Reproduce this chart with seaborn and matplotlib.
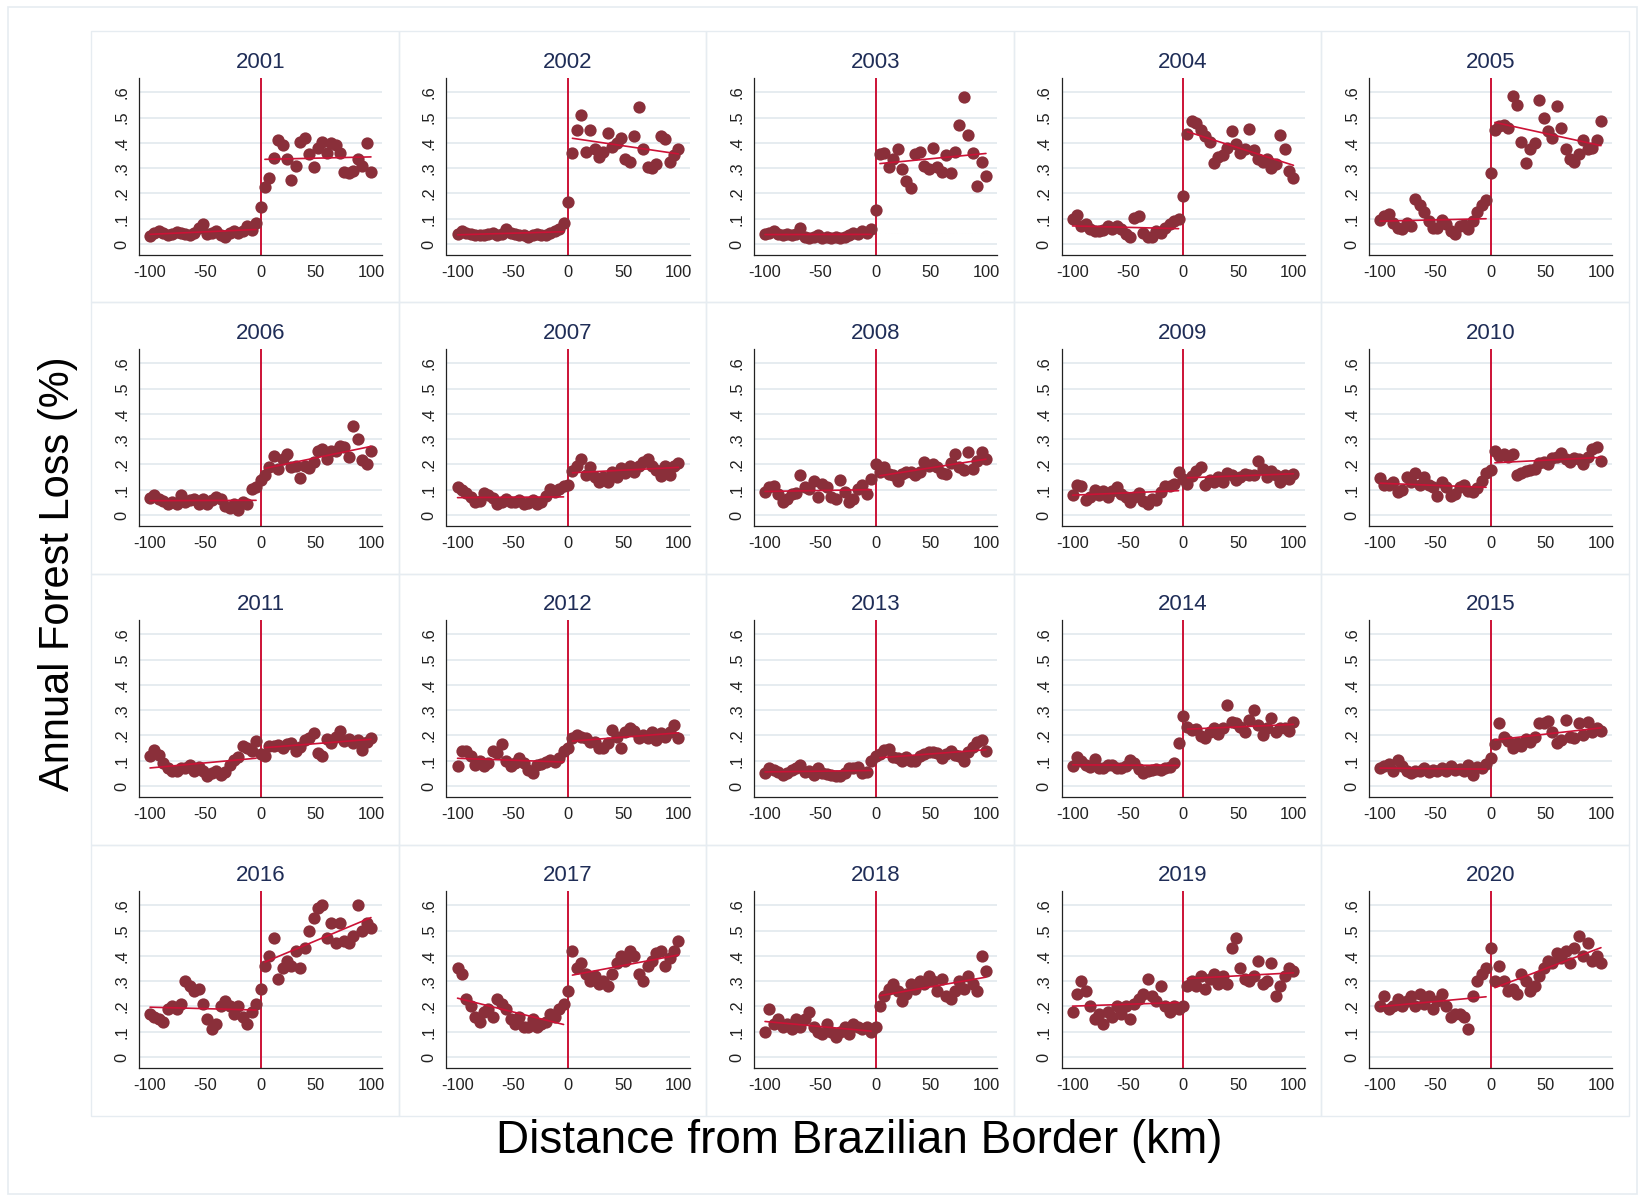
import matplotlib
matplotlib.use("Agg")
import matplotlib.pyplot as plt
from matplotlib.patches import Rectangle
import numpy as np
import pandas as pd
import seaborn as sns

# Distance bins (km from the Brazilian border) shared by every year
distance_km = [-100, -96, -92, -88, -84, -80, -76, -72, -68, -64, -60, -56, -52,
               -48, -44, -40, -36, -32, -28, -24, -20, -16, -12, -8, -4, 0,
               4, 8, 12, 16, 20, 24, 28, 32, 36, 40, 44, 48, 52, 56, 60, 64,
               68, 72, 76, 80, 84, 88, 92, 96, 100]

# Annual forest loss (%) per distance bin, one list per year
loss_2001 = [0.033, 0.045, 0.05, 0.045, 0.035, 0.04, 0.048, 0.045, 0.04, 0.035, 0.045, 0.065, 0.078,
             0.04, 0.045, 0.05, 0.035, 0.03, 0.045, 0.05, 0.045, 0.05, 0.07, 0.055, 0.085, 0.145,
             0.225, 0.26, 0.34, 0.41, 0.39, 0.335, 0.255, 0.31, 0.405, 0.42, 0.355, 0.305, 0.38,
             0.405, 0.36, 0.40, 0.39, 0.36, 0.285, 0.28, 0.29, 0.335, 0.31, 0.40, 0.285]
loss_2002 = [0.04, 0.05, 0.045, 0.04, 0.035, 0.035, 0.035, 0.04, 0.045, 0.035, 0.04, 0.06, 0.045,
             0.04, 0.035, 0.035, 0.03, 0.035, 0.04, 0.035, 0.035, 0.045, 0.05, 0.06, 0.085, 0.165,
             0.36, 0.45, 0.51, 0.365, 0.45, 0.375, 0.345, 0.365, 0.44, 0.385, 0.40, 0.42, 0.335,
             0.325, 0.425, 0.54, 0.375, 0.305, 0.30, 0.315, 0.425, 0.415, 0.325, 0.35, 0.375]
loss_2003 = [0.04, 0.045, 0.05, 0.04, 0.035, 0.04, 0.035, 0.04, 0.065, 0.03, 0.025, 0.03, 0.035,
             0.025, 0.03, 0.025, 0.03, 0.025, 0.03, 0.035, 0.045, 0.04, 0.05, 0.045, 0.06, 0.135,
             0.355, 0.36, 0.305, 0.335, 0.375, 0.295, 0.25, 0.22, 0.355, 0.365, 0.31, 0.295, 0.38,
             0.305, 0.285, 0.35, 0.28, 0.365, 0.47, 0.58, 0.43, 0.36, 0.23, 0.325, 0.27]
loss_2004 = [0.10, 0.115, 0.07, 0.08, 0.06, 0.05, 0.05, 0.055, 0.07, 0.06, 0.07, 0.06, 0.04,
             0.03, 0.105, 0.11, 0.045, 0.03, 0.03, 0.05, 0.045, 0.065, 0.08, 0.09, 0.10, 0.19,
             0.435, 0.485, 0.48, 0.45, 0.425, 0.405, 0.32, 0.345, 0.35, 0.38, 0.445, 0.395, 0.36,
             0.375, 0.455, 0.37, 0.335, 0.325, 0.335, 0.30, 0.315, 0.43, 0.375, 0.29, 0.26]
loss_2005 = [0.097, 0.11, 0.12, 0.085, 0.065, 0.06, 0.085, 0.07, 0.18, 0.155, 0.125, 0.09, 0.065,
             0.065, 0.097, 0.08, 0.05, 0.038, 0.07, 0.075, 0.06, 0.09, 0.125, 0.155, 0.175, 0.28,
             0.45, 0.465, 0.47, 0.46, 0.585, 0.55, 0.405, 0.32, 0.375, 0.40, 0.57, 0.50, 0.445,
             0.42, 0.545, 0.46, 0.375, 0.335, 0.325, 0.355, 0.41, 0.375, 0.38, 0.41, 0.485]
loss_2006 = [0.067, 0.078, 0.065, 0.055, 0.045, 0.05, 0.045, 0.078, 0.05, 0.06, 0.065, 0.042, 0.065,
             0.045, 0.06, 0.07, 0.065, 0.035, 0.03, 0.042, 0.02, 0.05, 0.045, 0.104, 0.11, 0.14,
             0.16, 0.19, 0.235, 0.183, 0.22, 0.242, 0.19, 0.195, 0.147, 0.195, 0.186, 0.21, 0.255,
             0.262, 0.222, 0.255, 0.255, 0.274, 0.268, 0.228, 0.353, 0.30, 0.218, 0.20, 0.255]
loss_2007 = [0.11, 0.10, 0.088, 0.07, 0.05, 0.055, 0.087, 0.08, 0.068, 0.045, 0.05, 0.065, 0.05,
             0.05, 0.06, 0.045, 0.047, 0.06, 0.045, 0.05, 0.075, 0.105, 0.09, 0.105, 0.113, 0.12,
             0.176, 0.195, 0.222, 0.16, 0.19, 0.15, 0.13, 0.15, 0.13, 0.17, 0.15, 0.185, 0.165,
             0.195, 0.17, 0.195, 0.21, 0.222, 0.195, 0.178, 0.155, 0.195, 0.16, 0.195, 0.205]
loss_2008 = [0.09, 0.11, 0.113, 0.085, 0.05, 0.065, 0.085, 0.087, 0.16, 0.11, 0.104, 0.134, 0.07,
             0.123, 0.11, 0.07, 0.065, 0.14, 0.09, 0.05, 0.065, 0.104, 0.117, 0.085, 0.143, 0.20,
             0.17, 0.19, 0.163, 0.16, 0.134, 0.163, 0.17, 0.17, 0.16, 0.17, 0.21, 0.195, 0.20,
             0.19, 0.165, 0.163, 0.205, 0.24, 0.19, 0.18, 0.248, 0.183, 0.215, 0.248, 0.222]
loss_2009 = [0.078, 0.12, 0.115, 0.06, 0.07, 0.10, 0.08, 0.095, 0.07, 0.095, 0.11, 0.085, 0.07,
             0.05, 0.07, 0.087, 0.055, 0.042, 0.065, 0.06, 0.09, 0.115, 0.115, 0.123, 0.17, 0.143,
             0.123, 0.155, 0.176, 0.19, 0.117, 0.14, 0.13, 0.15, 0.13, 0.165, 0.157, 0.14, 0.15,
             0.163, 0.16, 0.16, 0.215, 0.183, 0.15, 0.176, 0.16, 0.13, 0.157, 0.143, 0.163]
loss_2010 = [0.147, 0.12, 0.12, 0.13, 0.09, 0.10, 0.15, 0.13, 0.165, 0.12, 0.15, 0.117, 0.11,
             0.075, 0.13, 0.11, 0.075, 0.085, 0.11, 0.12, 0.097, 0.09, 0.107, 0.133, 0.165, 0.18,
             0.255, 0.235, 0.242, 0.23, 0.24, 0.16, 0.165, 0.176, 0.18, 0.183, 0.205, 0.21, 0.20,
             0.225, 0.228, 0.245, 0.222, 0.21, 0.225, 0.222, 0.20, 0.23, 0.26, 0.27, 0.215]
loss_2011 = [0.12, 0.143, 0.123, 0.09, 0.073, 0.058, 0.06, 0.07, 0.072, 0.085, 0.06, 0.075, 0.06,
             0.04, 0.05, 0.06, 0.045, 0.055, 0.085, 0.104, 0.115, 0.16, 0.15, 0.14, 0.18, 0.125,
             0.12, 0.16, 0.16, 0.163, 0.15, 0.165, 0.17, 0.14, 0.156, 0.183, 0.19, 0.21, 0.13,
             0.117, 0.186, 0.17, 0.195, 0.218, 0.18, 0.186, 0.17, 0.183, 0.143, 0.175, 0.19]
loss_2012 = [0.08, 0.137, 0.137, 0.117, 0.085, 0.10, 0.08, 0.09, 0.137, 0.13, 0.165, 0.10, 0.08,
             0.09, 0.11, 0.09, 0.065, 0.05, 0.085, 0.087, 0.095, 0.104, 0.095, 0.112, 0.14, 0.15,
             0.19, 0.20, 0.195, 0.19, 0.173, 0.176, 0.15, 0.15, 0.17, 0.222, 0.195, 0.152, 0.215,
             0.228, 0.218, 0.19, 0.20, 0.19, 0.215, 0.183, 0.21, 0.195, 0.215, 0.24, 0.19]
loss_2013 = [0.05, 0.073, 0.065, 0.055, 0.045, 0.05, 0.062, 0.07, 0.085, 0.055, 0.06, 0.045, 0.07,
             0.05, 0.047, 0.042, 0.04, 0.038, 0.05, 0.07, 0.07, 0.075, 0.05, 0.055, 0.10, 0.12,
             0.128, 0.143, 0.145, 0.115, 0.11, 0.10, 0.113, 0.10, 0.10, 0.117, 0.125, 0.135, 0.135,
             0.13, 0.11, 0.125, 0.137, 0.123, 0.12, 0.10, 0.133, 0.156, 0.176, 0.183, 0.137]
loss_2014 = [0.08, 0.113, 0.10, 0.085, 0.075, 0.107, 0.072, 0.072, 0.085, 0.085, 0.072, 0.07, 0.08,
             0.105, 0.09, 0.068, 0.05, 0.058, 0.065, 0.068, 0.065, 0.07, 0.075, 0.09, 0.17, 0.277,
             0.235, 0.22, 0.225, 0.198, 0.19, 0.215, 0.228, 0.205, 0.228, 0.322, 0.255, 0.248, 0.235,
             0.215, 0.26, 0.30, 0.24, 0.20, 0.228, 0.27, 0.215, 0.228, 0.228, 0.218, 0.252]
loss_2015 = [0.07, 0.08, 0.087, 0.06, 0.104, 0.08, 0.06, 0.05, 0.058, 0.06, 0.07, 0.055, 0.065,
             0.06, 0.072, 0.06, 0.08, 0.065, 0.068, 0.06, 0.085, 0.045, 0.075, 0.07, 0.088, 0.11,
             0.165, 0.248, 0.195, 0.18, 0.15, 0.17, 0.16, 0.185, 0.176, 0.195, 0.248, 0.25, 0.257,
             0.215, 0.17, 0.183, 0.262, 0.195, 0.19, 0.248, 0.20, 0.255, 0.215, 0.228, 0.218]
loss_2016 = [0.17, 0.16, 0.15, 0.14, 0.19, 0.20, 0.19, 0.21, 0.30, 0.28, 0.26, 0.27, 0.21,
             0.15, 0.11, 0.13, 0.20, 0.22, 0.20, 0.17, 0.20, 0.16, 0.13, 0.18, 0.21, 0.27,
             0.36, 0.40, 0.47, 0.31, 0.35, 0.38, 0.36, 0.42, 0.35, 0.43, 0.50, 0.55, 0.59,
             0.60, 0.47, 0.53, 0.45, 0.53, 0.46, 0.45, 0.48, 0.60, 0.50, 0.53, 0.51]
loss_2017 = [0.35, 0.33, 0.23, 0.20, 0.16, 0.14, 0.18, 0.19, 0.16, 0.23, 0.21, 0.19, 0.15,
             0.13, 0.16, 0.12, 0.12, 0.15, 0.12, 0.13, 0.14, 0.17, 0.16, 0.19, 0.21, 0.26,
             0.42, 0.35, 0.37, 0.33, 0.30, 0.32, 0.29, 0.30, 0.28, 0.33, 0.37, 0.40, 0.38,
             0.42, 0.40, 0.33, 0.30, 0.36, 0.38, 0.41, 0.42, 0.36, 0.39, 0.42, 0.46]
loss_2018 = [0.10, 0.19, 0.13, 0.15, 0.12, 0.13, 0.11, 0.15, 0.12, 0.15, 0.18, 0.12, 0.10,
             0.09, 0.13, 0.10, 0.08, 0.10, 0.12, 0.09, 0.13, 0.12, 0.11, 0.12, 0.10, 0.12,
             0.20, 0.24, 0.27, 0.29, 0.26, 0.22, 0.25, 0.29, 0.27, 0.30, 0.29, 0.32, 0.30,
             0.26, 0.31, 0.24, 0.23, 0.26, 0.30, 0.27, 0.32, 0.29, 0.26, 0.40, 0.34]
loss_2019 = [0.18, 0.25, 0.30, 0.26, 0.20, 0.15, 0.17, 0.13, 0.18, 0.16, 0.20, 0.17, 0.20,
             0.15, 0.21, 0.23, 0.25, 0.31, 0.24, 0.22, 0.28, 0.20, 0.18, 0.20, 0.19, 0.20,
             0.28, 0.30, 0.28, 0.32, 0.27, 0.31, 0.33, 0.29, 0.32, 0.29, 0.43, 0.47, 0.35,
             0.31, 0.30, 0.32, 0.38, 0.29, 0.30, 0.37, 0.24, 0.28, 0.32, 0.35, 0.34]
loss_2020 = [0.20, 0.24, 0.19, 0.20, 0.23, 0.20, 0.22, 0.24, 0.20, 0.25, 0.21, 0.24, 0.19,
             0.22, 0.25, 0.20, 0.16, 0.17, 0.17, 0.16, 0.11, 0.24, 0.30, 0.33, 0.35, 0.43,
             0.30, 0.36, 0.30, 0.26, 0.27, 0.25, 0.33, 0.30, 0.26, 0.28, 0.32, 0.35, 0.38,
             0.37, 0.41, 0.39, 0.42, 0.37, 0.43, 0.48, 0.40, 0.45, 0.38, 0.40, 0.37]

years = list(range(2001, 2021))
yearly_loss = [loss_2001, loss_2002, loss_2003, loss_2004, loss_2005,
               loss_2006, loss_2007, loss_2008, loss_2009, loss_2010,
               loss_2011, loss_2012, loss_2013, loss_2014, loss_2015,
               loss_2016, loss_2017, loss_2018, loss_2019, loss_2020]

y_ticks = [0, 0.1, 0.2, 0.3, 0.4, 0.5, 0.6]
y_tick_labels = ["0", ".1", ".2", ".3", ".4", ".5", ".6"]
x_ticks = [-100, -50, 0, 50, 100]
x_tick_labels = ["-100", "-50", "0", "50", "100"]

df = pd.concat(
    [pd.DataFrame({"year": yr, "distance": distance_km, "loss": vals})
     for yr, vals in zip(years, yearly_loss)],
    ignore_index=True,
)

sns.set_theme(style="white")
plt.rcParams["font.family"] = ["Liberation Sans", "DejaVu Sans"]

MARKER = "#8a2f3a"
RED = "#cc1236"
GRID = "#e2e9ee"
FRAME = "#e6ecf1"
TITLE = "#1f2d57"

W, H = 1645, 1199
fig = plt.figure(figsize=(W / 100, H / 100), dpi=100)
fig.patch.set_facecolor("white")

# outer frame of the graph region
fig.patches.append(Rectangle((8 / W, 1 - 1194 / H), (1637 - 8) / W, (1194 - 7) / H,
                             transform=fig.transFigure, fill=False,
                             edgecolor=FRAME, lw=1.2, zorder=0))

ncols = 5
pitch_x, pitch_y = 307.5, 271.0
ax_w, ax_h = 243.0, 177.0

for i, yr in enumerate(years):
    r, c = divmod(i, ncols)
    # light box around each panel
    fx, fy = 91 + pitch_x * c, 31.5 + pitch_y * r
    fig.patches.append(Rectangle((fx / W, 1 - (fy + pitch_y) / H), pitch_x / W, pitch_y / H,
                                 transform=fig.transFigure, fill=False,
                                 edgecolor=FRAME, lw=1.0, zorder=0))

    left = 139 + pitch_x * c
    top = 78 + pitch_y * r
    ax = fig.add_axes([left / W, 1 - (top + ax_h) / H, ax_w / W, ax_h / H])
    ax.set_facecolor("white")

    sub = df[df["year"] == yr]
    west = sub[sub["distance"] < 0]
    east = sub[sub["distance"] > 0]

    ax.axvline(0, color=RED, lw=1.4, zorder=1)
    sns.scatterplot(data=sub, x="distance", y="loss", ax=ax, color=MARKER,
                    s=78, linewidth=0, alpha=1, zorder=2, legend=False)
    for part in (west, east):
        sns.regplot(data=part, x="distance", y="loss", ax=ax, scatter=False,
                    ci=None, truncate=True,
                    line_kws=dict(color=RED, lw=1.2, zorder=3))

    ax.set_xlim(-110, 110)
    ax.set_ylim(-0.043, 0.656)
    ax.set_yticks(y_ticks)
    ax.set_yticklabels(y_tick_labels, rotation=90, va="center")
    ax.set_xticks(x_ticks)
    ax.set_xticklabels(x_tick_labels)
    ax.yaxis.grid(True, color=GRID, lw=1.2, zorder=0)
    ax.xaxis.grid(False)
    ax.set_axisbelow(True)

    for side in ("top", "right"):
        ax.spines[side].set_visible(False)
    for side in ("left", "bottom"):
        ax.spines[side].set_color("#222222")
        ax.spines[side].set_linewidth(0.9)

    ax.tick_params(axis="both", direction="out", length=4, width=0.9,
                   colors="#222222", labelsize=11.8, pad=3)
    ax.tick_params(axis="y", pad=3)
    ax.set_xlabel("")
    ax.set_ylabel("")
    ax.set_title(str(yr), fontsize=16, color=TITLE, pad=7)

fig.text(58 / W, 1 - 574 / H, "Annual Forest Loss (%)", rotation=90,
         ha="center", va="center", fontsize=30, color="black")
fig.text(859 / W, 1 - 1141 / H, "Distance from Brazilian Border (km)",
         ha="center", va="center", fontsize=33, color="black")

fig.savefig("out.png", dpi=100, facecolor="white")
